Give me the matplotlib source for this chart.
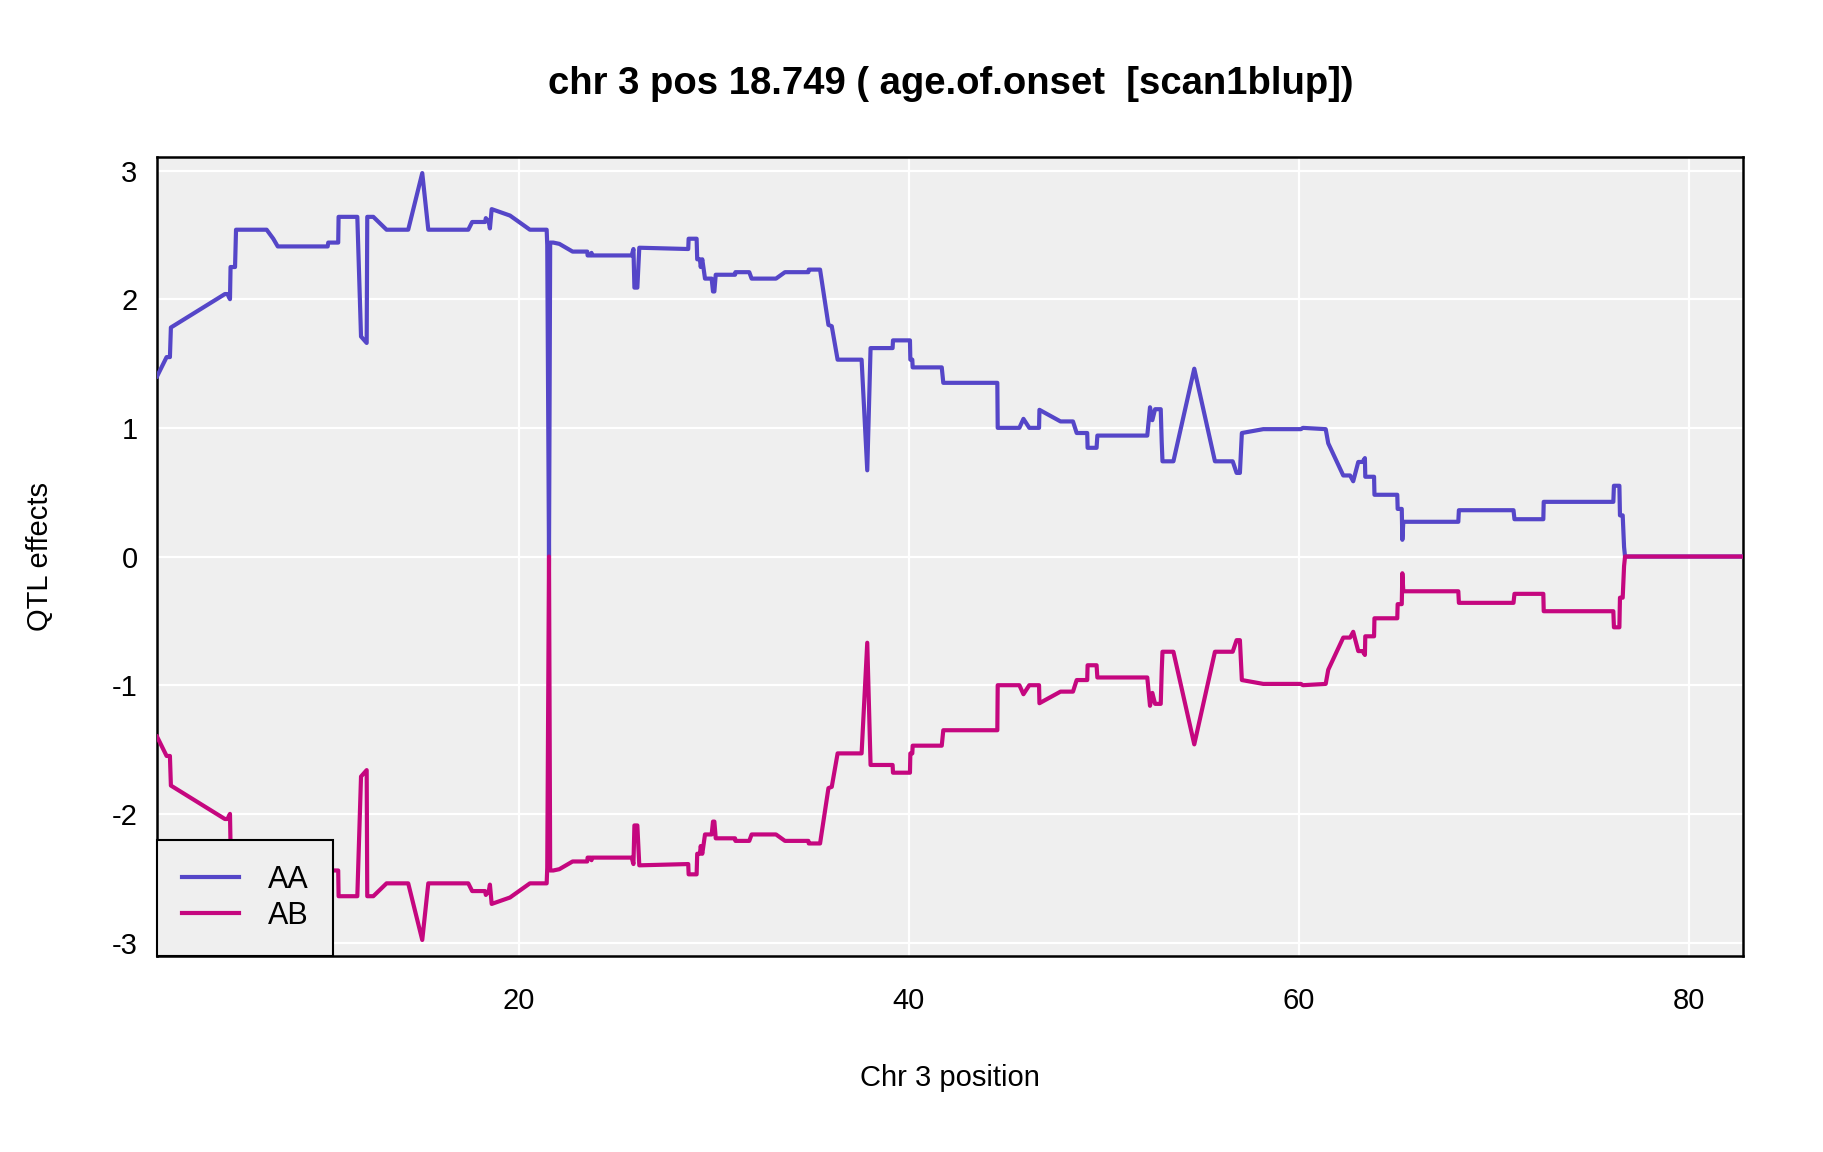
#!/usr/bin/env python3
# -*- coding: utf-8 -*-
"""
QTL effects along chr 3 (age.of.onset, scan1blup)

Usage:
    python plot.py
"""

import matplotlib
matplotlib.use("Agg")
import matplotlib.pyplot as plt

# Marker positions on chr 3 (cM)
positions = [
    1.44, 1.93, 2.10, 2.15, 4.92, 5.05, 5.18, 5.21, 5.44, 5.49,
    7.06, 7.40, 7.63, 10.19, 10.22, 10.73, 10.75, 11.71, 11.90, 12.19,
    12.22, 12.53, 13.21, 14.32, 15.04, 15.35, 17.40, 17.60, 18.26, 18.30,
    18.45, 18.51, 18.60, 19.54, 20.56, 21.42, 21.45, 21.54, 21.60, 21.76,
    22.07, 22.75, 23.50, 23.52, 23.68, 23.72, 23.76, 25.78, 25.87, 25.92,
    26.07, 26.17, 28.68, 28.70, 29.11, 29.14, 29.28, 29.32, 29.40, 29.54,
    29.88, 29.95, 30.02, 30.09, 31.08, 31.10, 31.81, 31.93, 33.18, 33.64,
    34.84, 34.86, 35.44, 35.87, 36.04, 36.34, 37.57, 37.86, 38.03, 39.16,
    39.18, 40.05, 40.07, 40.17, 40.19, 41.68, 41.76, 44.53, 44.55, 45.66,
    45.87, 46.17, 46.67, 46.69, 47.77, 48.41, 48.60, 49.14, 49.16, 49.62,
    49.66, 52.22, 52.36, 52.48, 52.62, 52.91, 52.96, 53.00, 53.56, 54.63,
    55.69, 56.60, 56.80, 56.97, 57.07, 58.17, 60.10, 60.20, 61.37, 61.50,
    62.27, 62.62, 62.78, 63.04, 63.26, 63.38, 63.40, 63.85, 63.87, 65.04,
    65.06, 65.27, 65.30, 65.35, 68.17, 68.20, 71.00, 71.05, 72.53, 72.55,
    76.12, 76.15, 76.43, 76.46, 76.60, 76.67, 76.72, 82.77,
]

# AA effect
aa_effect = [
    1.40, 1.55, 1.55, 1.78, 2.04, 2.04, 2.00, 2.25, 2.25, 2.54,
    2.54, 2.47, 2.41, 2.41, 2.44, 2.44, 2.64, 2.64, 1.71, 1.66,
    2.64, 2.64, 2.54, 2.54, 2.98, 2.54, 2.54, 2.60, 2.60, 2.63,
    2.60, 2.55, 2.70, 2.65, 2.54, 2.54, 2.42, 0.00, 2.44, 2.44,
    2.43, 2.37, 2.37, 2.34, 2.34, 2.36, 2.34, 2.34, 2.39, 2.09,
    2.09, 2.40, 2.39, 2.47, 2.47, 2.31, 2.31, 2.25, 2.31, 2.16,
    2.16, 2.06, 2.06, 2.19, 2.19, 2.21, 2.21, 2.16, 2.16, 2.21,
    2.21, 2.23, 2.23, 1.80, 1.79, 1.53, 1.53, 0.67, 1.62, 1.62,
    1.68, 1.68, 1.53, 1.53, 1.47, 1.47, 1.35, 1.35, 1.00, 1.00,
    1.07, 1.00, 1.00, 1.14, 1.05, 1.05, 0.96, 0.96, 0.845, 0.845,
    0.94, 0.94, 1.16, 1.06, 1.145, 1.145, 0.89, 0.74, 0.74, 1.46,
    0.74, 0.74, 0.65, 0.65, 0.96, 0.99, 0.99, 1.00, 0.99, 0.88,
    0.63, 0.63, 0.585, 0.735, 0.735, 0.765, 0.62, 0.62, 0.48, 0.48,
    0.37, 0.37, 0.13, 0.27, 0.27, 0.36, 0.36, 0.29, 0.29, 0.425,
    0.425, 0.55, 0.55, 0.32, 0.32, 0.075, 0.00, 0.00,
]

# AB effect
ab_effect = [
    -1.40, -1.55, -1.55, -1.78, -2.04, -2.04, -2.00, -2.25, -2.25, -2.54,
    -2.54, -2.47, -2.41, -2.41, -2.44, -2.44, -2.64, -2.64, -1.71, -1.66,
    -2.64, -2.64, -2.54, -2.54, -2.98, -2.54, -2.54, -2.60, -2.60, -2.63,
    -2.60, -2.55, -2.70, -2.65, -2.54, -2.54, -2.42, 0.00, -2.44, -2.44,
    -2.43, -2.37, -2.37, -2.34, -2.34, -2.36, -2.34, -2.34, -2.39, -2.09,
    -2.09, -2.40, -2.39, -2.47, -2.47, -2.31, -2.31, -2.25, -2.31, -2.16,
    -2.16, -2.06, -2.06, -2.19, -2.19, -2.21, -2.21, -2.16, -2.16, -2.21,
    -2.21, -2.23, -2.23, -1.80, -1.79, -1.53, -1.53, -0.67, -1.62, -1.62,
    -1.68, -1.68, -1.53, -1.53, -1.47, -1.47, -1.35, -1.35, -1.00, -1.00,
    -1.07, -1.00, -1.00, -1.14, -1.05, -1.05, -0.96, -0.96, -0.845, -0.845,
    -0.94, -0.94, -1.16, -1.06, -1.145, -1.145, -0.89, -0.74, -0.74, -1.46,
    -0.74, -0.74, -0.65, -0.65, -0.96, -0.99, -0.99, -1.00, -0.99, -0.88,
    -0.63, -0.63, -0.585, -0.735, -0.735, -0.765, -0.62, -0.62, -0.48, -0.48,
    -0.37, -0.37, -0.13, -0.27, -0.27, -0.36, -0.36, -0.29, -0.29, -0.425,
    -0.425, -0.55, -0.55, -0.32, -0.32, -0.075, 0.00, 0.00,
]

x_ticks = [20, 40, 60, 80]
y_ticks = [-3, -2, -1, 0, 1, 2, 3]

TITLE = "chr 3 pos 18.749 ( age.of.onset  [scan1blup])"
AA_COLOR = "#5546c8"
AB_COLOR = "#c5077f"
BG_COLOR = "#efefef"


def main():
    plt.rcParams["font.family"] = ["Liberation Sans", "DejaVu Sans"]
    plt.rcParams["axes.unicode_minus"] = False

    fig = plt.figure(figsize=(18.24, 11.52), dpi=100)
    ax = fig.add_axes([0.0861, 0.1701, 0.8695, 0.6936])
    ax.set_facecolor(BG_COLOR)

    # white grid
    for xt in x_ticks:
        ax.axvline(xt, color="white", lw=1.6, zorder=1)
    for yt in y_ticks:
        ax.axhline(yt, color="white", lw=1.6, zorder=1)

    ax.plot(positions, aa_effect, color=AA_COLOR, lw=3.0, label="AA", zorder=3)
    ax.plot(positions, ab_effect, color=AB_COLOR, lw=3.0, label="AB", zorder=4)

    ax.set_xlim(1.44, 82.77)
    ax.set_ylim(-3.105, 3.105)
    ax.set_xticks(x_ticks)
    ax.set_yticks(y_ticks)
    ax.tick_params(length=0, labelsize=21, pad=14)
    ax.tick_params(axis="x", pad=22)
    for spine in ax.spines.values():
        spine.set_linewidth(1.8)
        spine.set_color("black")

    fig.text(0.521, 0.927, TITLE, ha="center", va="center",
             fontsize=27.5, fontweight="bold")
    fig.text(0.521, 0.064, "Chr 3 position", ha="center", va="center", fontsize=21)
    fig.text(0.022, 0.517, "QTL effects", ha="center", va="center",
             rotation=90, fontsize=21)

    leg = ax.legend(loc="lower left", borderaxespad=0, fontsize=22,
                    handlelength=1.85, handletextpad=0.95, borderpad=0.82,
                    labelspacing=0.2, fancybox=False, framealpha=1)
    leg.get_frame().set_facecolor(BG_COLOR)
    leg.get_frame().set_edgecolor("black")
    leg.get_frame().set_linewidth(1.5)
    leg.set_zorder(5)

    fig.savefig("out.png", dpi=100)
    return 0


if __name__ == "__main__":
    main()
